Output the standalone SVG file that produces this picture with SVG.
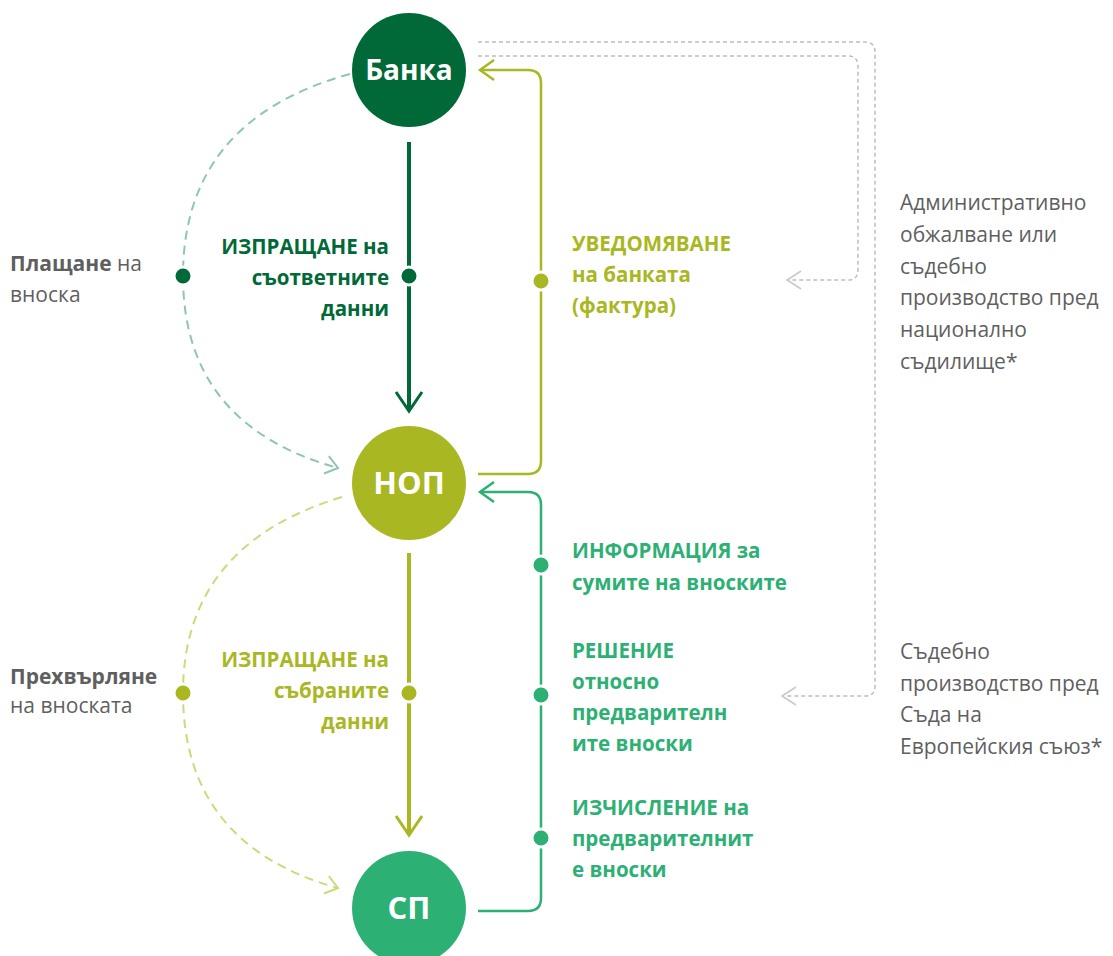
<svg xmlns="http://www.w3.org/2000/svg" width="1113" height="956" viewBox="0 0 1113 956">
<defs>
<style>
.t{font-family:"Open Sans","Noto Sans","DejaVu Sans",sans-serif;}
.b{font-weight:bold;font-size:20.5px;}
.g{fill:#5f5f5f;font-size:21px;}
.dk{fill:#006937;}
.ol{fill:#A9B723;}
.gr{fill:#2CB074;}
.nl{fill:#fff;font-weight:bold;text-anchor:middle;}
.dot{stroke:#fff;stroke-width:3;}
</style>
<marker id="mTeal" markerUnits="userSpaceOnUse" markerWidth="30" markerHeight="30" viewBox="-15 -15 30 30" refX="0" refY="0" orient="auto"><path d="M-12,-9 L0,0 L-12,9" fill="none" stroke="#8FC5B1" stroke-width="2"/></marker>
<marker id="mLime" markerUnits="userSpaceOnUse" markerWidth="30" markerHeight="30" viewBox="-15 -15 30 30" refX="0" refY="0" orient="auto"><path d="M-12,-9 L0,0 L-12,9" fill="none" stroke="#C9DB7C" stroke-width="2"/></marker>
</defs>
<g id="connectors" fill="none">
<path d="M409,142 V410" stroke="#006937" stroke-width="4"/>
<path d="M396,392 L409,411 L422,392" stroke="#006937" stroke-width="3"/>
<path d="M409,553 V835" stroke="#A9B723" stroke-width="4"/>
<path d="M396,816 L409,835 L422,816" stroke="#A9B723" stroke-width="3"/>
<path d="M478,474 H528 Q541,474 541,461 V83 Q541,70 528,70 H480" stroke="#A9B723" stroke-width="2.5"/>
<path d="M494,60 L480,70 L494,80" stroke="#A9B723" stroke-width="2.5"/>
<path d="M478,911 H528 Q541,911 541,898 V505 Q541,492 528,492 H480" stroke="#2CB074" stroke-width="2.5"/>
<path d="M494,482 L480,492 L494,502" stroke="#2CB074" stroke-width="2.5"/>
<path d="M350,74 Q183,120 183,276 Q183,425 338,468" stroke="#8FC5B1" stroke-width="2" stroke-dasharray="9 6" marker-end="url(#mTeal)"/>
<path d="M342,497 Q183,545 183,693 Q183,845 338,888" stroke="#C9DB7C" stroke-width="2" stroke-dasharray="9 6" marker-end="url(#mLime)"/>
<path d="M478,56 H848 Q858,56 858,66 V270 Q858,280 848,280 H787" stroke="#BDBDBD" stroke-width="1.5" stroke-dasharray="4 3"/>
<path d="M801,271 L787,280 L801,289" stroke="#C8C8C8" stroke-width="1.5"/>
<path d="M478,42 H865 Q875,42 875,52 V686 Q875,696 865,696 H782" stroke="#BDBDBD" stroke-width="1.5" stroke-dasharray="4 3"/>
<path d="M796,687 L782,696 L796,705" stroke="#C8C8C8" stroke-width="1.5"/>
<circle class="dot" cx="183" cy="276" r="9" fill="#006937"/>
<circle class="dot" cx="409" cy="276" r="9" fill="#006937"/>
<circle class="dot" cx="183" cy="693" r="9" fill="#A9B723"/>
<circle class="dot" cx="409" cy="693" r="9" fill="#A9B723"/>
<circle class="dot" cx="541" cy="281" r="9" fill="#A9B723"/>
<circle class="dot" cx="541" cy="565" r="9" fill="#2CB074"/>
<circle class="dot" cx="541" cy="695" r="9" fill="#2CB074"/>
<circle class="dot" cx="541" cy="838" r="9" fill="#2CB074"/>
</g>
<g id="node-banka">
<circle cx="409" cy="70" r="57" fill="#006937"/>
<text class="t nl" x="409" y="80" font-size="28">Банка</text>
</g>
<g id="node-nop">
<circle cx="409" cy="483" r="57" fill="#A9B723"/>
<text class="t nl" x="409" y="494" font-size="31">НОП</text>
</g>
<g id="node-sp">
<circle cx="409" cy="908" r="57" fill="#2CB074"/>
<text class="t nl" x="409" y="919" font-size="31">СП</text>
</g>
<g id="labels">
<text class="t g" x="10" y="271"><tspan font-weight="bold">Плащане</tspan> на</text>
<text class="t g" x="10" y="302">вноска</text>
<text class="t g" x="10" y="684" font-weight="bold">Прехвърляне</text>
<text class="t g" x="10" y="713">на вноската</text>
<g class="t b dk" text-anchor="end">
<text x="389" y="254">ИЗПРАЩАНЕ на</text>
<text x="389" y="285">съответните</text>
<text x="389" y="316">данни</text>
</g>
<g class="t b ol" text-anchor="end">
<text x="389" y="667">ИЗПРАЩАНЕ на</text>
<text x="389" y="698">събраните</text>
<text x="389" y="729">данни</text>
</g>
<g class="t b ol">
<text x="572" y="251">УВЕДОМЯВАНЕ</text>
<text x="572" y="282">на банката</text>
<text x="572" y="313">(фактура)</text>
</g>
<g class="t b gr">
<text x="572" y="558">ИНФОРМАЦИЯ за</text>
<text x="572" y="590">сумите на вноските</text>
<text x="572" y="658">РЕШЕНИЕ</text>
<text x="572" y="689">относно</text>
<text x="572" y="720">предварителн</text>
<text x="572" y="751">ите вноски</text>
<text x="572" y="815">ИЗЧИСЛЕНИЕ на</text>
<text x="572" y="846">предварителнит</text>
<text x="572" y="877">е вноски</text>
</g>
<g class="t g">
<text x="900" y="210">Административно</text>
<text x="900" y="242">обжалване или</text>
<text x="900" y="274">съдебно</text>
<text x="900" y="305">производство пред</text>
<text x="900" y="337">национално</text>
<text x="900" y="369">съдилище*</text>
<text x="900" y="659">Съдебно</text>
<text x="900" y="691">производство пред</text>
<text x="900" y="722">Съда на</text>
<text x="900" y="754">Европейския съюз*</text>
</g>
</g>
</svg>
